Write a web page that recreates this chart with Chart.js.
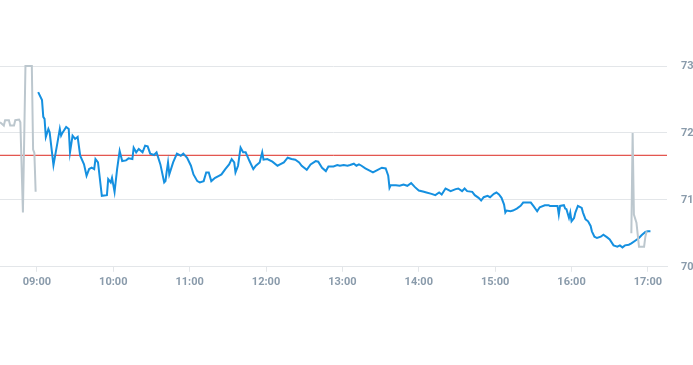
<!DOCTYPE html>
<html>
<head>
<meta charset="utf-8">
<script src="https://cdn.jsdelivr.net/npm/chart.js@4/dist/chart.umd.min.js"></script>
<style>
  html, body { margin: 0; padding: 0; background: #fff; }
  #wrap { position: relative; width: 693px; height: 365px; }
</style>
</head>
<body>
<div id="wrap"><canvas id="priceChart"></canvas></div>
<script>
// Pre-market (grey)
const preTimes = ['08:31','08:34','08:35','08:38','08:39','08:42','08:43','08:46','08:47','08:49','08:51','08:56','08:57','08:58','08:59'];
const preValues = [72.16,72.11,72.19,72.19,72.11,72.11,72.19,72.20,72.16,70.81,73.00,73.00,71.75,71.70,71.12];

// Regular session (blue)
const sessionTimes = [
  '09:01','09:04','09:05','09:06','09:07','09:09','09:10','09:13','09:16','09:18','09:19','09:20','09:23','09:25','09:26','09:28',
  '09:30','09:32','09:34','09:37','09:39','09:41','09:43','09:45','09:46','09:48','09:51','09:55','09:56','09:58','09:59',
  '10:01','10:03','10:05','10:07','10:10','10:12','10:15','10:16','10:18','10:20','10:23','10:25','10:27','10:29','10:32','10:34',
  '10:37','10:40','10:41','10:42','10:43','10:44','10:47','10:50','10:53','10:55','10:58',
  '11:01','11:03','11:06','11:08','11:11','11:13','11:15','11:17','11:20','11:23','11:25','11:28','11:31','11:33','11:35','11:36',
  '11:38','11:40','11:42','11:44','11:47','11:50','11:52','11:55','11:57','11:58',
  '12:01','12:05','12:09','12:11','12:14','12:17','12:20','12:23','12:26','12:28','12:32','12:35','12:39','12:41','12:44','12:47',
  '12:49','12:53','12:56','12:58',
  '13:01','13:04','13:06','13:09','13:11','13:13','13:15','13:18','13:21','13:24','13:27','13:31','13:34','13:36','13:37','13:38',
  '13:42','13:45','13:48','13:51','13:54','13:57',
  '14:00','14:04','14:06','14:10','14:13','14:16','14:18','14:21','14:22','14:25','14:29','14:31','14:34','14:36','14:38','14:42',
  '14:44','14:47','14:49','14:51','14:54','14:56','14:59',
  '15:01','15:03','15:05','15:07','15:08','15:09','15:12','15:14','15:17','15:20','15:22','15:25','15:28','15:30','15:33','15:35',
  '15:39','15:42','15:43','15:46','15:49','15:50','15:51','15:54','15:55','15:56','15:58','15:59',
  '16:00','16:02','16:03','16:05','16:08','16:09','16:11','16:13','16:15','16:16','16:18','16:20','16:23','16:25','16:28','16:30',
  '16:33','16:36','16:38','16:40','16:42','16:45','16:47','16:50','16:53','16:55','16:58','17:00','17:02'
];
const sessionValues = [
  72.61,72.49,72.24,72.21,71.94,72.06,72.01,71.52,71.84,72.06,71.96,72.00,72.09,72.06,71.71,71.96,
  71.91,71.94,71.66,71.53,71.36,71.46,71.48,71.46,71.61,71.56,71.06,71.07,71.31,71.26,71.33,
  71.12,71.46,71.73,71.58,71.59,71.62,71.61,71.78,71.71,71.76,71.71,71.81,71.80,71.69,71.67,71.71,
  71.53,71.26,71.28,71.43,71.56,71.38,71.56,71.69,71.66,71.69,71.63,
  71.51,71.38,71.28,71.26,71.28,71.41,71.41,71.28,71.33,71.36,71.38,71.46,71.53,71.61,71.56,71.41,
  71.51,71.78,71.71,71.71,71.58,71.46,71.51,71.56,71.71,71.60,
  71.61,71.57,71.51,71.53,71.56,71.63,71.61,71.60,71.56,71.51,71.45,71.53,71.58,71.57,71.48,71.43,
  71.50,71.50,71.52,71.51,
  71.52,71.51,71.52,71.54,71.51,71.53,71.51,71.47,71.44,71.41,71.44,71.48,71.47,71.36,71.18,71.22,
  71.22,71.21,71.23,71.21,71.25,71.19,
  71.14,71.12,71.11,71.09,71.07,71.11,71.08,71.17,71.16,71.13,71.16,71.17,71.13,71.17,71.13,71.12,
  71.07,71.03,70.99,71.04,71.06,71.04,71.09,
  71.11,71.08,71.03,70.93,70.81,70.84,70.83,70.84,70.87,70.91,70.96,70.96,70.96,70.91,70.83,70.89,
  70.92,70.92,70.91,70.91,70.91,70.78,70.91,70.92,70.87,70.86,70.73,70.81,
  70.68,70.73,70.81,70.91,70.88,70.81,70.71,70.68,70.61,70.53,70.45,70.43,70.45,70.48,70.44,70.41,
  70.32,70.30,70.32,70.29,70.32,70.33,70.35,70.39,70.43,70.47,70.52,70.53,70.53
];

// After-hours (grey)
const postTimes = ['16:47','16:48','16:49','16:51','16:53','16:57','16:58','16:59'];
const postValues = [70.50,72.00,70.78,70.66,70.30,70.30,70.45,70.53];

const prevClose = 71.666;
const xTickLabels = ['09:00','10:00','11:00','12:00','13:00','14:00','15:00','16:00','17:00'];
const yTicks = [70, 71, 72, 73];
const axisStart = '08:31';
const axisEnd = '17:15';

const toMin = s => { const [h, m] = s.split(':').map(Number); return h * 60 + m; };
const toLabel = v => String(Math.floor(v / 60)).padStart(2, '0') + ':' + String(v % 60).padStart(2, '0');
const pts = (times, values) => times.map((t, i) => ({ x: toMin(t), y: values[i] }));

const xMin = toMin(axisStart);
const xMax = toMin(axisEnd);
const tickColor = '#8a9bab';
const gridColor = '#e3e6e9';

const lineStyle = {
  pointRadius: 0,
  pointHoverRadius: 0,
  borderWidth: 2,
  tension: 0,
  fill: false,
  clip: { left: 0, top: 4, right: 0, bottom: 4 }
};

new Chart(document.getElementById('priceChart').getContext('2d'), {
  type: 'line',
  data: {
    datasets: [
      Object.assign({ label: 'Pre', data: pts(preTimes, preValues), borderColor: '#bcc7ce' }, lineStyle),
      Object.assign({ label: 'Post', data: pts(postTimes, postValues), borderColor: '#bcc7ce' }, lineStyle),
      Object.assign({ label: 'Session', data: pts(sessionTimes, sessionValues), borderColor: '#1590e0' }, lineStyle),
      {
        label: 'Prev close',
        data: [{ x: xMin, y: prevClose }, { x: xMax, y: prevClose }],
        borderColor: '#dc2a20',
        borderWidth: 1,
        pointRadius: 0,
        fill: false
      }
    ]
  },
  options: {
    responsive: true,
    maintainAspectRatio: false,
    animation: false,
    layout: { padding: { top: 66, bottom: 72, left: 0, right: 0 } },
    plugins: { legend: { display: false }, tooltip: { enabled: false } },
    scales: {
      x: {
        type: 'linear',
        min: xMin,
        max: xMax,
        afterBuildTicks: axis => { axis.ticks = xTickLabels.map(l => ({ value: toMin(l) })); },
        afterFit: axis => { axis.paddingLeft = 0; axis.paddingRight = 0; },
        grid: { drawOnChartArea: false, drawTicks: true, tickLength: 5, color: gridColor },
        border: { color: gridColor },
        ticks: {
          autoSkip: false,
          maxRotation: 0,
          padding: 4,
          color: tickColor,
          font: { family: 'Roboto', size: 11, weight: 'bold' },
          callback: v => toLabel(v)
        }
      },
      y: {
        position: 'right',
        min: yTicks[0],
        max: yTicks[yTicks.length - 1],
        afterBuildTicks: axis => { axis.ticks = yTicks.map(v => ({ value: v })); },
        afterFit: axis => { axis.width = 26; },
        grid: { color: gridColor, drawTicks: false },
        border: { display: false },
        ticks: {
          padding: 14,
          color: tickColor,
          font: { family: 'Roboto', size: 11, weight: 'bold' }
        }
      }
    }
  }
});
</script>
</body>
</html>
